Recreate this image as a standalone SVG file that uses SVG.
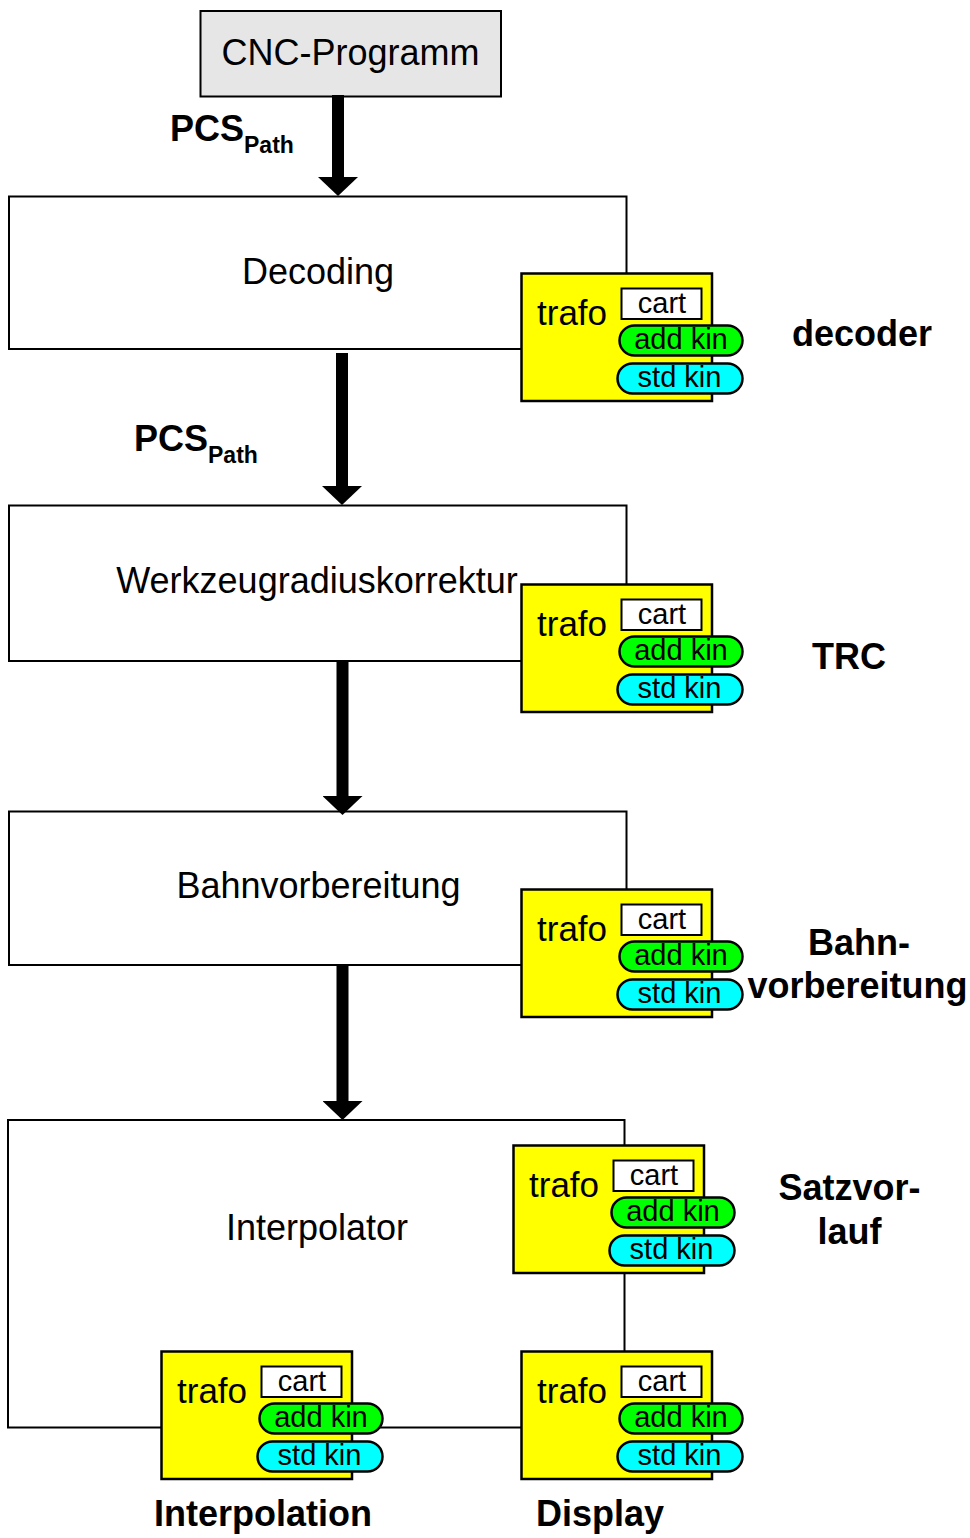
<svg xmlns="http://www.w3.org/2000/svg" width="970" height="1538" viewBox="0 0 970 1538">
  <style>
    .box { fill: #ffffff; stroke: #000000; stroke-width: 2; }
    .prog { fill: #e6e6e6; stroke: #000000; stroke-width: 2; }
    .trafo { fill: #ffff00; stroke: #000000; stroke-width: 2.5; }
    .cart { fill: #ffffff; stroke: #000000; stroke-width: 2; }
    .add { fill: #00ff00; stroke: #000000; stroke-width: 2.5; }
    .std { fill: #00ffff; stroke: #000000; stroke-width: 2.5; }
    .flow { stroke: #000000; stroke-width: 12; fill: none; marker-end: url(#arrowhead); }
    text { font-family: "Liberation Sans", Arial, Helvetica, sans-serif; fill: #000000; }
    .main { font-size: 36px; text-anchor: middle; }
    .tname { font-size: 35px; }
    .tsub { font-size: 29px; text-anchor: middle; }
    .lbl { font-size: 36px; font-weight: bold; }
    .lblc { font-size: 36px; font-weight: bold; text-anchor: middle; }
    .sub { font-size: 23px; font-weight: bold; }
  </style>
  <defs>
    <marker id="arrowhead" markerUnits="userSpaceOnUse" markerWidth="19" markerHeight="40" viewBox="0 0 19 40" refX="0" refY="20" orient="auto">
      <path d="M0,0 L19,20 L0,40 Z" fill="#000000"/>
    </marker>
  </defs>

  <!-- process boxes -->
  <g id="cnc-programm">
    <rect class="prog" x="200.5" y="11" width="300.5" height="85.5"/>
    <text class="main" x="350.5" y="65">CNC-Programm</text>
  </g>
  <g id="decoding">
    <rect class="box" x="9" y="196.5" width="617.5" height="152.5"/>
    <text class="main" x="318" y="284">Decoding</text>
  </g>
  <g id="werkzeugradiuskorrektur">
    <rect class="box" x="9" y="505.5" width="617.5" height="155.5"/>
    <text class="main" x="317" y="593">Werkzeugradiuskorrektur</text>
  </g>
  <g id="bahnvorbereitung">
    <rect class="box" x="9" y="811.5" width="617.5" height="153.5"/>
    <text class="main" x="318.5" y="898">Bahnvorbereitung</text>
  </g>
  <g id="interpolator">
    <rect class="box" x="8" y="1120" width="616.5" height="307.5"/>
    <text class="main" x="317" y="1240">Interpolator</text>
  </g>

  <!-- data flow arrows -->
  <g id="connectors">
    <line class="flow" x1="338" y1="95" x2="338" y2="177"/>
    <line class="flow" x1="342" y1="353" x2="342" y2="486"/>
    <line class="flow" x1="342.5" y1="661" x2="342.5" y2="796"/>
    <line class="flow" x1="342.5" y1="965" x2="342.5" y2="1101"/>
  </g>

  <!-- flow labels -->
  <g id="label-pcs-1">
    <text class="lbl" x="170" y="141">PCS</text>
    <text class="sub" x="244" y="153">Path</text>
  </g>
  <g id="label-pcs-2">
    <text class="lbl" x="134" y="451">PCS</text>
    <text class="sub" x="208" y="463">Path</text>
  </g>

  <!-- transformation blocks -->
  <g id="trafo-decoder" transform="translate(521.5,273.5)">
    <rect class="trafo" x="0" y="0" width="190.5" height="127.5"/>
    <text class="tname" x="15.5" y="51">trafo</text>
    <rect class="cart" x="100" y="15" width="80" height="30.5"/>
    <text class="tsub" x="140.5" y="39">cart</text>
    <rect class="add" x="98" y="52" width="123" height="30" rx="15"/>
    <text class="tsub" x="159.5" y="75">add kin</text>
    <rect class="std" x="96" y="90" width="125" height="30" rx="15"/>
    <text class="tsub" x="158" y="113">std kin</text>
  </g>
  <g id="trafo-trc" transform="translate(521.5,584.5)">
    <rect class="trafo" x="0" y="0" width="190.5" height="127.5"/>
    <text class="tname" x="15.5" y="51">trafo</text>
    <rect class="cart" x="100" y="15" width="80" height="30.5"/>
    <text class="tsub" x="140.5" y="39">cart</text>
    <rect class="add" x="98" y="52" width="123" height="30" rx="15"/>
    <text class="tsub" x="159.5" y="75">add kin</text>
    <rect class="std" x="96" y="90" width="125" height="30" rx="15"/>
    <text class="tsub" x="158" y="113">std kin</text>
  </g>
  <g id="trafo-bahnvorbereitung" transform="translate(521.5,889.5)">
    <rect class="trafo" x="0" y="0" width="190.5" height="127.5"/>
    <text class="tname" x="15.5" y="51">trafo</text>
    <rect class="cart" x="100" y="15" width="80" height="30.5"/>
    <text class="tsub" x="140.5" y="39">cart</text>
    <rect class="add" x="98" y="52" width="123" height="30" rx="15"/>
    <text class="tsub" x="159.5" y="75">add kin</text>
    <rect class="std" x="96" y="90" width="125" height="30" rx="15"/>
    <text class="tsub" x="158" y="113">std kin</text>
  </g>
  <g id="trafo-satzvorlauf" transform="translate(513.5,1145.5)">
    <rect class="trafo" x="0" y="0" width="190.5" height="127.5"/>
    <text class="tname" x="15.5" y="51">trafo</text>
    <rect class="cart" x="100" y="15" width="80" height="30.5"/>
    <text class="tsub" x="140.5" y="39">cart</text>
    <rect class="add" x="98" y="52" width="123" height="30" rx="15"/>
    <text class="tsub" x="159.5" y="75">add kin</text>
    <rect class="std" x="96" y="90" width="125" height="30" rx="15"/>
    <text class="tsub" x="158" y="113">std kin</text>
  </g>
  <g id="trafo-interpolation" transform="translate(161.5,1351.5)">
    <rect class="trafo" x="0" y="0" width="190.5" height="127.5"/>
    <text class="tname" x="15.5" y="51">trafo</text>
    <rect class="cart" x="100" y="15" width="80" height="30.5"/>
    <text class="tsub" x="140.5" y="39">cart</text>
    <rect class="add" x="98" y="52" width="123" height="30" rx="15"/>
    <text class="tsub" x="159.5" y="75">add kin</text>
    <rect class="std" x="96" y="90" width="125" height="30" rx="15"/>
    <text class="tsub" x="158" y="113">std kin</text>
  </g>
  <g id="trafo-display" transform="translate(521.5,1351.5)">
    <rect class="trafo" x="0" y="0" width="190.5" height="127.5"/>
    <text class="tname" x="15.5" y="51">trafo</text>
    <rect class="cart" x="100" y="15" width="80" height="30.5"/>
    <text class="tsub" x="140.5" y="39">cart</text>
    <rect class="add" x="98" y="52" width="123" height="30" rx="15"/>
    <text class="tsub" x="159.5" y="75">add kin</text>
    <rect class="std" x="96" y="90" width="125" height="30" rx="15"/>
    <text class="tsub" x="158" y="113">std kin</text>
  </g>

  <!-- stage names -->
  <g id="stage-labels">
    <text class="lbl" x="792" y="346">decoder</text>
    <text class="lbl" x="812" y="669">TRC</text>
    <text class="lblc" x="859" y="955">Bahn-</text>
    <text class="lblc" x="857.5" y="998">vorbereitung</text>
    <text class="lblc" x="849.5" y="1200">Satzvor-</text>
    <text class="lblc" x="849.5" y="1244">lauf</text>
    <text class="lbl" x="154" y="1526">Interpolation</text>
    <text class="lbl" x="536" y="1526">Display</text>
  </g>
</svg>
